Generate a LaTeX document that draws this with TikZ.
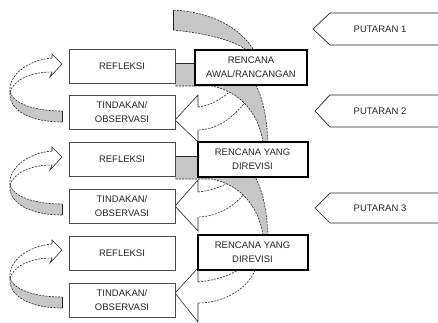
\documentclass[tikz,border=0pt]{standalone}
\usepackage{fontspec}
\setmainfont{Liberation Sans}
\pgfdeclarelayer{bg}
\pgfsetlayers{bg,main}
\begin{document}
\begin{tikzpicture}[x=1pt,y=-1pt,
  edge/.style={draw=black!85, line width=0.6pt},
  dsh/.style={draw=black!85, line width=0.6pt, dash pattern=on 2pt off 1.2pt},
  band/.style={fill=black!22},
  txt/.style={font=\fontsize{9.5}{14}\selectfont, text=black!85, align=center},
  sbox/.style={txt, draw=black!70, line width=0.6pt, fill=white, minimum width=106pt, minimum height=34pt, inner sep=0pt},
  rbox/.style={txt, draw=black, line width=2pt, fill=white, minimum width=110pt, minimum height=35pt, inner sep=0pt},
  pshape/.style={draw=black!85, line width=0.7pt}
]
\useasboundingbox (0,0) rectangle (438,322);

% ---------- boxes ----------
\node[sbox] (refl1) at (122,66)    {REFLEKSI};
\node[sbox] (tind1) at (122,112)   {TINDAKAN/\\OBSERVASI};
\node[sbox] (refl2) at (122,159.5) {REFLEKSI};
\node[sbox] (tind2) at (122,206)   {TINDAKAN/\\OBSERVASI};
\node[sbox] (refl3) at (122,253)   {REFLEKSI};
\node[sbox] (tind3) at (122,300.5) {TINDAKAN/\\OBSERVASI};

\node[rbox, minimum width=112pt] (ren1) at (251,67) {RENCANA\\AWAL/RANCANGAN};
\node[rbox] (ren2) at (252.5,159.5) {RENCANA YANG\\DIREVISI};
\node[rbox] (ren3) at (252.5,252.5) {RENCANA YANG\\DIREVISI};

% ---------- putaran ----------
\foreach \n/\t/\m/\b/\tx in {1/13/29/45/313, 2/95/111/127/315, 3/193/208/223/315}{
  \draw[pshape] (438,\t) -- (330,\t) -- (\tx,\m) -- (330,\b) -- (438,\b);
  \node[txt] (put\n) at (380,\m) {PUTARAN \n};
}

\begin{pgfonlayer}{bg}
% top band entering the first plan
\fill[band] (173,10) -- (173,30) .. controls (205,33) and (232,40) .. (245,49)
  -- (253,49) .. controls (240,28) and (212,12) .. (173,10) -- cycle;
\draw[edge] (173,10) -- (173,30);
\draw[dsh] (173,30) .. controls (205,33) and (232,40) .. (245,49);
\draw[dsh] (253,49) .. controls (240,28) and (212,12) .. (173,10);

% white arrows: plan -> action
\foreach \Bb/\tip/\bt/\st/\sb/\bb in {85/120/95/107/130/142, 177/206/180/192/217/231, 270/293/268/282/303/322}{
  \fill[white] (198,\st) .. controls (218,\st-2) and (232,\Bb+4) .. (238,\Bb)
     -- (255,\Bb) .. controls (248,\Bb+18) and (225,\sb) .. (198,\sb)
     -- (198,\bb) -- (175,\tip) -- (198,\bt) -- cycle;
  \draw[edge] (198,\st) -- (198,\bt) -- (175,\tip) -- (198,\bb) -- (198,\sb);
  \draw[dsh] (198,\st) .. controls (218,\st-2) and (232,\Bb+4) .. (238,\Bb);
  \draw[dsh] (255,\Bb) .. controls (248,\Bb+18) and (225,\sb) .. (198,\sb);
}

% gray bands: reflection -> revised plan
\foreach \R in {49,142}{
  \fill[band] (175,\R+14) -- (230,\R+14) .. controls (255,\R+19) and (266,\R+51) .. (268,\R+93)
     -- (263,\R+93) .. controls (258,\R+63) and (240,\R+43) .. (212,\R+37) -- (175,\R+37) -- cycle;
  \draw[edge] (175,\R+14) -- (230,\R+14);
  \draw[dsh] (230,\R+14) .. controls (255,\R+19) and (266,\R+51) .. (268,\R+93);
  \draw[dsh] (263,\R+93) .. controls (258,\R+63) and (240,\R+43) .. (212,\R+37) -- (175,\R+37);
}

% left loops: action -> reflection
\foreach \R in {49,142,235}{
  \fill[band] (10,\R+43) .. controls (14,\R+55) and (35,\R+62) .. (62,\R+62)
     -- (62,\R+73) .. controls (30,\R+73) and (8,\R+61) .. (10,\R+43) -- cycle;
  \draw[dsh] (10,\R+43) .. controls (14,\R+55) and (35,\R+62) .. (62,\R+62);
  \draw[dsh] (62,\R+73) .. controls (30,\R+73) and (8,\R+61) .. (10,\R+43);
  \draw[edge] (62,\R+62) -- (62,\R+73);
  \fill[white] (62,\R+15) -- (52,\R+5) -- (52,\R+9) .. controls (28,\R+11) and (8,\R+26) .. (10,\R+43)
     .. controls (14,\R+31) and (30,\R+23) .. (52,\R+23) -- (50,\R+28) -- cycle;
  \draw[edge] (52,\R+9) -- (52,\R+5) -- (62,\R+15) -- (50,\R+28) -- (52,\R+23);
  \draw[dsh] (52,\R+9) .. controls (28,\R+11) and (8,\R+26) .. (10,\R+43);
  \draw[dsh] (10,\R+43) .. controls (14,\R+31) and (30,\R+23) .. (52,\R+23);
}
\end{pgfonlayer}
\end{tikzpicture}
\end{document}
